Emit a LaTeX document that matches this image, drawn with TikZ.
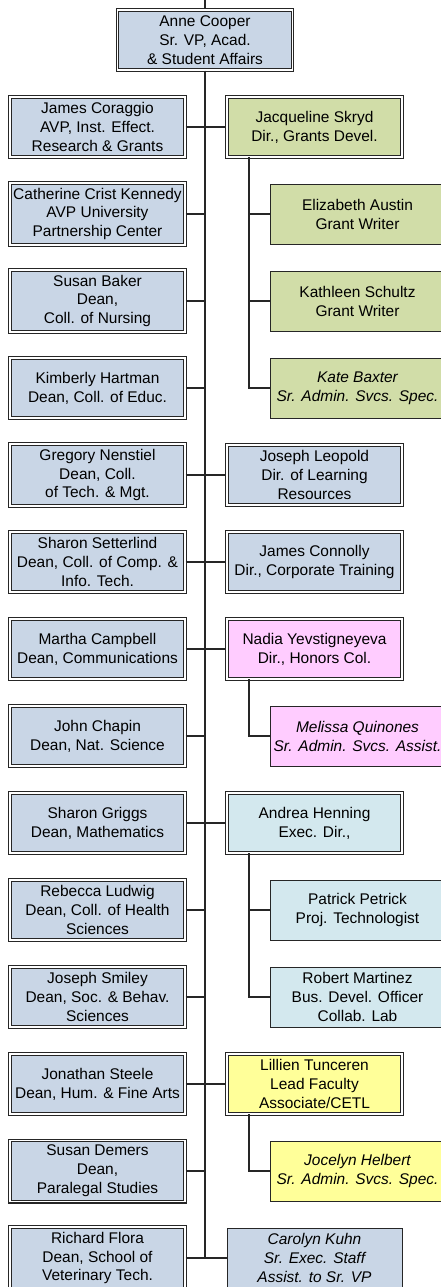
\documentclass[tikz,border=0pt]{standalone}
\usepackage{fontspec}
\setmainfont{Liberation Sans}
\usepackage{xcolor}

\definecolor{deanblue}{RGB}{201,214,230}
\definecolor{grantgreen}{RGB}{209,221,168}
\definecolor{honorspink}{RGB}{255,204,255}
\definecolor{labcyan}{RGB}{211,232,238}
\definecolor{cetlyellow}{RGB}{255,255,153}

\begin{document}
\begin{tikzpicture}[x=0.025cm,y=-0.025cm]
		
		\tikzset{unit/.style = {shape=rectangle,draw=black!85,double=white,double distance=1.1pt,line width=0.75pt,fill=deanblue,minimum width=4.375cm,minimum height=1.5cm,inner xsep=0pt,align=center,font=\fontsize{11}{13.5}\selectfont}}
		\tikzset{staff/.style = {unit,double=none,line width=0.6pt}}
		\tikzset{edge/.style = {draw=black!85,line width=0.8pt}}
		
		\useasboundingbox (0,0) rectangle (440,1287);
		
		\coordinate (top) at (205,0);
		\coordinate (spine) at (205,1258);
		
		\node[unit] (anne) at (205,40) {Anne Cooper\\Sr. VP, Acad.\\\& Student Affairs};
		
		\node[unit] (coraggio) at (97.5,127) {James Coraggio\\AVP, Inst. Effect.\\Research \& Grants};
		\node[unit] (kennedy) at (97.5,214) {Catherine Crist Kennedy\\AVP University\\Partnership Center};
		\node[unit] (baker) at (97.5,301) {Susan Baker\\Dean,\\Coll. of Nursing};
		\node[unit] (hartman) at (97.5,388) {Kimberly Hartman\\Dean, Coll. of Educ.};
		\node[unit] (nenstiel) at (97.5,475) {Gregory Nenstiel\\Dean, Coll.\\of Tech. \& Mgt.};
		\node[unit] (setterlind) at (97.5,562) {Sharon Setterlind\\Dean, Coll. of Comp. \&\\Info. Tech.};
		\node[unit] (campbell) at (97.5,649) {Martha Campbell\\Dean, Communications};
		\node[unit] (chapin) at (97.5,736) {John Chapin\\Dean, Nat. Science};
		\node[unit] (griggs) at (97.5,823) {Sharon Griggs\\Dean, Mathematics};
		\node[unit] (ludwig) at (97.5,910) {Rebecca Ludwig\\Dean, Coll. of Health\\Sciences};
		\node[unit] (smiley) at (97.5,997) {Joseph Smiley\\Dean, Soc. \& Behav.\\Sciences};
		\node[unit] (steele) at (97.5,1084) {Jonathan Steele\\Dean, Hum. \& Fine Arts};
		\node[unit] (demers) at (97.5,1171) {Susan Demers\\Dean,\\Paralegal Studies};
		\node[unit] (flora) at (97.5,1258) {Richard Flora\\Dean, School of\\Veterinary Tech.};
		
		\node[unit,fill=grantgreen] (skryd) at (314.5,127) {Jacqueline Skryd\\Dir., Grants Devel.};
		\node[unit] (leopold) at (314.5,475) {Joseph Leopold\\Dir. of Learning\\Resources};
		\node[unit] (connolly) at (314.5,562) {James Connolly\\Dir., Corporate Training};
		\node[unit,fill=honorspink] (yevst) at (314.5,649) {Nadia Yevstigneyeva\\Dir., Honors Col.};
		\node[unit,fill=labcyan] (henning) at (314.5,823) {Andrea Henning\\Exec. Dir.,};
		\node[unit,fill=cetlyellow] (tunceren) at (314.5,1084) {Lillien Tunceren\\Lead Faculty\\Associate/CETL};
		\node[staff] (kuhn) at (314.5,1258) {\itshape Carolyn Kuhn\\\itshape Sr. Exec. Staff\\\itshape Assist. to Sr. VP};
		
		\node[staff,fill=grantgreen] (austin) at (357.5,214) {Elizabeth Austin\\Grant Writer};
		\node[staff,fill=grantgreen] (schultz) at (357.5,301) {Kathleen Schultz\\Grant Writer};
		\node[staff,fill=grantgreen] (baxter) at (357.5,388) {\itshape Kate Baxter\\\itshape Sr. Admin. Svcs. Spec.};
		\node[staff,fill=honorspink] (quinones) at (357.5,736) {\itshape Melissa Quinones\\\itshape Sr. Admin. Svcs. Assist.};
		\node[staff,fill=labcyan] (petrick) at (357.5,910) {Patrick Petrick\\Proj. Technologist};
		\node[staff,fill=labcyan] (martinez) at (357.5,997) {Robert Martinez\\Bus. Devel. Officer\\Collab. Lab};
		\node[staff,fill=cetlyellow] (helbert) at (357.5,1171) {\itshape Jocelyn Helbert\\\itshape Sr. Admin. Svcs. Spec.};
		
		\coordinate (grantsleg) at (249,157);
		\coordinate (honorsleg) at (249,679);
		\coordinate (lableg) at (249,853);
		\coordinate (cetlleg) at (249,1114);
		
		\draw[edge] (top) -- (anne);
		\draw[edge] (anne) -- (spine);
		
		\draw[edge] (coraggio) -- (skryd);
		\draw[edge] (kennedy) -- (kennedy -| spine);
		\draw[edge] (baker) -- (baker -| spine);
		\draw[edge] (hartman) -- (hartman -| spine);
		\draw[edge] (nenstiel) -- (leopold);
		\draw[edge] (setterlind) -- (connolly);
		\draw[edge] (campbell) -- (yevst);
		\draw[edge] (chapin) -- (chapin -| spine);
		\draw[edge] (griggs) -- (henning);
		\draw[edge] (ludwig) -- (ludwig -| spine);
		\draw[edge] (smiley) -- (smiley -| spine);
		\draw[edge] (steele) -- (tunceren);
		\draw[edge] (demers) -- (demers -| spine);
		\draw[edge] (flora) -- (kuhn);
		
		\draw[edge] (grantsleg) |- (baxter);
		\draw[edge] (austin) -| (grantsleg);
		\draw[edge] (schultz) -| (grantsleg);
		\draw[edge] (honorsleg) |- (quinones);
		\draw[edge] (lableg) |- (martinez);
		\draw[edge] (petrick) -| (lableg);
		\draw[edge] (cetlleg) |- (helbert);
		
\end{tikzpicture}
\end{document}
